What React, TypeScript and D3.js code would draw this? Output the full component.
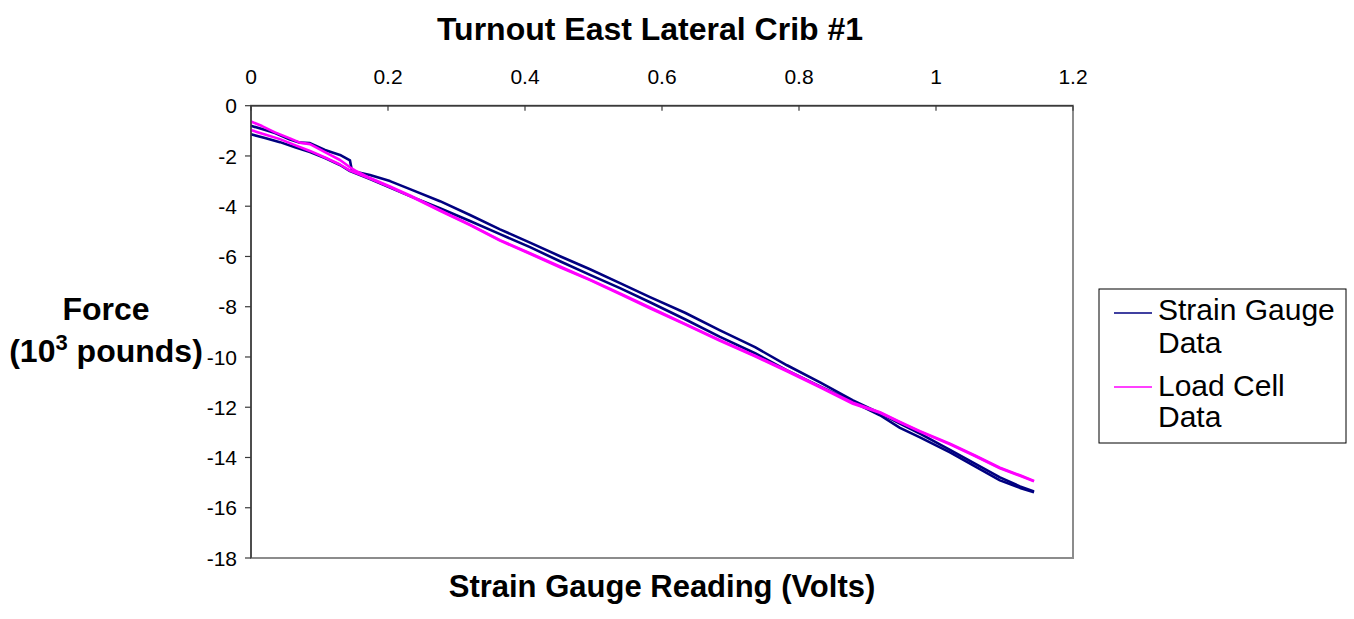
import React from "react";
import * as d3 from "d3";

// ---- Data ----
const chartTitle = "Turnout East Lateral Crib #1";
const xAxisTitle = "Strain Gauge Reading (Volts)";
const xTicks = [0, 0.2, 0.4, 0.6, 0.8, 1, 1.2];
const yTicks = [0, -2, -4, -6, -8, -10, -12, -14, -16, -18];
const seriesNames = ["Strain Gauge Data", "Load Cell Data"];
const seriesColors = ["#000080", "#FF00FF"];

// Strain gauge data: loading path (lower trace)
const sgLoadVolts = [0, 0.0204, 0.0423, 0.0642, 0.0861, 0.108, 0.1299, 0.1445, 0.1737, 0.2029, 0.2321, 0.2759, 0.3197, 0.3635, 0.4073, 0.4511, 0.4949, 0.5387, 0.5825, 0.6336, 0.6847, 0.7358, 0.7825, 0.8307, 0.8788, 0.9182, 0.9474, 0.9766, 1.0204, 1.0569, 1.0934, 1.1226, 1.1431];
const sgLoadForce = [-1.14, -1.29, -1.45, -1.65, -1.84, -2.08, -2.36, -2.6, -2.92, -3.26, -3.6, -4.08, -4.59, -5.11, -5.63, -6.19, -6.73, -7.26, -7.82, -8.5, -9.2, -9.85, -10.53, -11.17, -11.79, -12.32, -12.82, -13.2, -13.8, -14.35, -14.91, -15.21, -15.38];
// Strain gauge data: unloading path (upper trace, with the step near 0.145 V)
const sgUnloadVolts = [0, 0.0161, 0.035, 0.0569, 0.0715, 0.0861, 0.108, 0.1299, 0.1445, 0.1474, 0.1737, 0.2029, 0.2321, 0.2759, 0.3197, 0.3635, 0.4073, 0.4511, 0.4949, 0.5387, 0.5825, 0.6336, 0.6847, 0.7358, 0.7825, 0.8307, 0.8788, 0.9182, 0.9474, 0.9766, 1.0204, 1.0569, 1.0934, 1.1226, 1.1431];
const sgUnloadForce = [-0.8, -0.93, -1.09, -1.35, -1.47, -1.49, -1.76, -1.96, -2.18, -2.6, -2.76, -3.0, -3.32, -3.8, -4.35, -4.92, -5.45, -5.99, -6.51, -7.06, -7.62, -8.24, -8.94, -9.61, -10.33, -11.01, -11.73, -12.24, -12.65, -13.05, -13.7, -14.24, -14.79, -15.15, -15.35];

// Load cell data: loading path (lower trace)
const lcLoadVolts = [0, 0.0204, 0.0423, 0.0642, 0.0861, 0.108, 0.1299, 0.1445, 0.1737, 0.2029, 0.2321, 0.2759, 0.3197, 0.3635, 0.4073, 0.4511, 0.4949, 0.5387, 0.5825, 0.6336, 0.6847, 0.7358, 0.7825, 0.8307, 0.8788, 0.9182, 0.9474, 0.9766, 1.0204, 1.0569, 1.0934, 1.1226, 1.1431];
const lcLoadForce = [-0.97, -1.15, -1.33, -1.57, -1.8, -2.06, -2.34, -2.58, -2.9, -3.24, -3.6, -4.18, -4.75, -5.37, -5.89, -6.43, -6.94, -7.5, -8.06, -8.7, -9.36, -9.97, -10.57, -11.21, -11.86, -12.22, -12.6, -12.97, -13.48, -13.94, -14.43, -14.73, -14.95];
// Load cell data: unloading path (upper trace)
const lcUnloadVolts = [0, 0.0161, 0.035, 0.0569, 0.0715, 0.0861, 0.108, 0.1299, 0.1445, 0.1547, 0.1737, 0.2029, 0.2321, 0.2759, 0.3197, 0.3635, 0.4073, 0.4511, 0.4949, 0.5387, 0.5825, 0.6336, 0.6847, 0.7358, 0.7825, 0.8307, 0.8788, 0.9182, 0.9474, 0.9766, 1.0204, 1.0569, 1.0934, 1.1226, 1.1431];
const lcUnloadForce = [-0.63, -0.81, -1.06, -1.3, -1.47, -1.53, -1.85, -2.16, -2.45, -2.62, -2.88, -3.21, -3.57, -4.16, -4.73, -5.35, -5.87, -6.4, -6.92, -7.47, -8.03, -8.68, -9.33, -9.95, -10.54, -11.18, -11.82, -12.2, -12.58, -12.95, -13.45, -13.92, -14.41, -14.71, -14.93];

const FONT = "'Liberation Sans', Arial, Helvetica, sans-serif";

function zip(xs: number[], ys: number[]): [number, number][] {
  return xs.map((x, i) => [x, ys[i]] as [number, number]);
}

export default function App() {
  const W = 1354;
  const H = 619;
  const x = d3.scaleLinear().domain([0, 1.2]).range([251, 1073]);
  const y = d3.scaleLinear().domain([-18, 0]).range([558, 105.7]);
  const line = d3
    .line<[number, number]>()
    .x((d) => x(d[0]))
    .y((d) => y(d[1]));

  const paths = [
    { d: line(zip(sgLoadVolts, sgLoadForce)), c: seriesColors[0] },
    { d: line(zip(sgUnloadVolts, sgUnloadForce)), c: seriesColors[0] },
    { d: line(zip(lcLoadVolts, lcLoadForce)), c: seriesColors[1] },
    { d: line(zip(lcUnloadVolts, lcUnloadForce)), c: seriesColors[1] },
  ];

  const x0 = x(0);
  const x1 = x(1.2);
  const yTop = y(0);
  const yBot = y(-18);

  return (
    <svg
      width={W}
      height={H}
      style={{ position: "absolute", left: 0, top: 0, background: "#fff" }}
      fontFamily={FONT}
    >
      <rect x={0} y={0} width={W} height={H} fill="#fff" />
      {/* Title */}
      <text x={650} y={40} textAnchor="middle" fontSize={32} fontWeight="bold">
        {chartTitle}
      </text>

      {/* Plot area frame */}
      <rect
        x={x0}
        y={yTop}
        width={x1 - x0}
        height={yBot - yTop}
        fill="#fff"
        stroke="#8c8c8c"
        strokeWidth={2}
      />

      {/* Series */}
      {paths.map((p, i) => (
        <path key={i} d={p.d || ""} fill="none" stroke={p.c} strokeWidth={2.6} strokeLinejoin="round" />
      ))}

      {/* X axis (top, at y = 0) */}
      <line x1={x0} x2={x1} y1={yTop} y2={yTop} stroke="#3a3a3a" strokeWidth={1.5} />
      {xTicks.map((t) => (
        <g key={"xt" + t}>
          <line x1={x(t)} x2={x(t)} y1={yTop} y2={yTop + 5} stroke="#3a3a3a" strokeWidth={1.2} />
          <text x={x(t)} y={84} textAnchor="middle" fontSize={21}>
            {String(t)}
          </text>
        </g>
      ))}

      {/* Y axis */}
      <line x1={x0} x2={x0} y1={yTop} y2={yBot} stroke="#3a3a3a" strokeWidth={1.5} />
      {yTicks.map((t) => (
        <g key={"yt" + t}>
          <line x1={x0 - 6} x2={x0} y1={y(t)} y2={y(t)} stroke="#3a3a3a" strokeWidth={1.2} />
          <text x={237} y={y(t)} dy="0.36em" textAnchor="end" fontSize={21}>
            {String(t)}
          </text>
        </g>
      ))}

      {/* Axis titles */}
      <text x={662} y={597} textAnchor="middle" fontSize={31} fontWeight="bold">
        {xAxisTitle}
      </text>
      <text x={106} y={320} textAnchor="middle" fontSize={32} fontWeight="bold">
        Force
      </text>
      <text x={106} y={362} textAnchor="middle" fontSize={32} fontWeight="bold">
        (10<tspan fontSize={22} dy={-12}>3</tspan>
        <tspan dy={12}> pounds)</tspan>
      </text>

      {/* Legend */}
      <rect x={1099} y={289} width={247} height={154} fill="#fff" stroke="#000" strokeWidth={1} />
      <line x1={1114} x2={1152} y1={313} y2={313} stroke={seriesColors[0]} strokeWidth={1.5} />
      <text x={1158} y={320} fontSize={30}>Strain Gauge</text>
      <text x={1158} y={353} fontSize={30}>Data</text>
      <line x1={1114} x2={1152} y1={387} y2={387} stroke={seriesColors[1]} strokeWidth={1.5} />
      <text x={1158} y={396} fontSize={30}>Load Cell</text>
      <text x={1158} y={427} fontSize={30}>Data</text>
      <title>{seriesNames.join(", ")}</title>
    </svg>
  );
}
